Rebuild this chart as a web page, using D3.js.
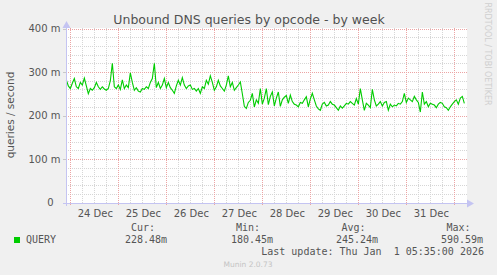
<!DOCTYPE html>
<html>
<head>
<meta charset="utf-8">
<script src="https://cdn.jsdelivr.net/npm/d3@7"></script>
<style>
  html, body { margin: 0; padding: 0; background: #f0f0f0; }
  svg { display: block; }
</style>
</head>
<body>
<div id="chart"></div>
<script>
// DATA
const title = 'Unbound DNS queries by opcode - by week';
const yLabel = 'queries / second';
const seriesName = 'QUERY';
const yTicks = [0, 100, 200, 300, 400];           // milli-queries per second
const dayLabels = ['24 Dec', '25 Dec', '26 Dec', '27 Dec', '28 Dec', '29 Dec', '30 Dec', '31 Dec'];
const startTime = '2025-12-23T22:00:00Z';          // first sample, one per hour
// hourly averages in m (queries/second * 1000)
const queryValues = [
  282, 268, 262, 274, 285, 266, 262, 276, 270, 286, 268, 250, 262, 258, 264, 276, 266, 260, 266, 261,
  258, 262, 280, 320, 266, 262, 270, 260, 282, 262, 270, 264, 298, 276, 258, 264, 256, 254, 262, 260,
  266, 262, 276, 285, 320, 264, 276, 262, 270, 285, 264, 276, 264, 258, 251, 268, 281, 270, 287, 270,
  262, 268, 270, 260, 262, 256, 262, 251, 266, 262, 281, 272, 291, 276, 258, 266, 281, 268, 262, 256,
  270, 291, 266, 276, 258, 264, 270, 277, 250, 221, 216, 230, 235, 251, 220, 236, 228, 262, 226, 240,
  262, 225, 244, 254, 222, 240, 254, 221, 236, 242, 246, 228, 247, 232, 226, 224, 220, 230, 228, 236,
  243, 220, 238, 251, 236, 222, 215, 212, 226, 230, 222, 224, 232, 226, 224, 218, 212, 222, 217, 222,
  228, 226, 232, 228, 224, 239, 226, 262, 236, 212, 228, 224, 218, 260, 236, 222, 226, 232, 222, 230,
  232, 212, 226, 220, 224, 222, 228, 226, 232, 251, 230, 240, 236, 232, 244, 236, 230, 208, 254, 226,
  232, 220, 228, 226, 224, 218, 226, 230, 228, 220, 218, 212, 220, 226, 232, 236, 226, 240, 244, 228
];
const legendHeads = ['Cur:', 'Min:', 'Avg:', 'Max:'];
const legendValues = ['228.48m', '180.45m', '245.24m', '590.59m'];
const lastUpdate = 'Last update: Thu Jan  1 05:35:00 2026';

// DIMENSIONS
const width = 497;
const height = 275;
const plotLeft = 65.5, plotRight = 465.5;
const plotTop = 28.5, plotBottom = 202.5;
const axisColor = '#c4c4f2';
const textColor = '#555555';
const mono = '"DejaVu Sans Mono", "Liberation Mono", monospace';
const sans = '"DejaVu Sans", "Noto Sans", sans-serif';

const svg = d3.select('#chart').append('svg')
  .attr('width', width)
  .attr('height', height)
  .style('background', '#f0f0f0');

// SCALES
const t0 = new Date(startTime);
const points = queryValues.map((v, i) => ({ t: new Date(t0.getTime() + i * 3600e3), v: v }));
const xStart = new Date('2025-12-23T21:35:00Z');
const xEnd = new Date('2026-01-01T05:35:00Z');
const x = d3.scaleUtc().domain([xStart, xEnd]).range([plotLeft, plotRight]);
const y = d3.scaleLinear().domain([0, 400]).range([plotBottom, plotTop]);

// canvas
svg.append('rect')
  .attr('x', 66).attr('y', 28)
  .attr('width', 401).attr('height', 175)
  .attr('fill', '#ffffff');

// GRID
const grid = svg.append('g').attr('shape-rendering', 'crispEdges');
const minorY = d3.range(0, 401, 20).filter(v => v % 100 !== 0);
grid.selectAll('line.minor-y').data(minorY).enter().append('line')
  .attr('x1', 66).attr('x2', 467)
  .attr('y1', d => Math.round(y(d)) + 0.5).attr('y2', d => Math.round(y(d)) + 0.5)
  .attr('stroke', '#d6d6d6').attr('stroke-dasharray', '1,1');

const sixHours = d3.utcHour.every(6).range(xStart, xEnd).filter(d => d.getUTCHours() !== 0);
grid.selectAll('line.minor-x').data(sixHours).enter().append('line')
  .attr('x1', d => Math.round(x(d)) + 0.5).attr('x2', d => Math.round(x(d)) + 0.5)
  .attr('y1', 28).attr('y2', 203)
  .attr('stroke', '#d6d6d6').attr('stroke-dasharray', '1,1');

grid.selectAll('line.major-y').data(yTicks.filter(d => d > 0)).enter().append('line')
  .attr('x1', 66).attr('x2', 467)
  .attr('y1', d => Math.round(y(d)) + 0.5).attr('y2', d => Math.round(y(d)) + 0.5)
  .attr('stroke', '#eca4a4').attr('stroke-dasharray', '1,1');

const days = d3.utcDay.range(xStart, xEnd);
grid.selectAll('line.major-x').data(days).enter().append('line')
  .attr('x1', d => Math.round(x(d)) + 0.5).attr('x2', d => Math.round(x(d)) + 0.5)
  .attr('y1', 28).attr('y2', 206)
  .attr('stroke', '#eca4a4').attr('stroke-dasharray', '1,1');

// y ticks on the axis
grid.selectAll('line.ytick').data(yTicks).enter().append('line')
  .attr('x1', 63).attr('x2', 66)
  .attr('y1', d => Math.round(y(d)) + 0.5).attr('y2', d => Math.round(y(d)) + 0.5)
  .attr('stroke', '#c8c8c8');

// SERIES LINE
const line = d3.line()
  .x(d => x(d.t))
  .y(d => y(d.v));

svg.append('path')
  .datum(points)
  .attr('d', line)
  .attr('fill', 'none')
  .attr('stroke', '#00cc00')
  .attr('stroke-width', 1.1);

// AXES
const axes = svg.append('g').attr('shape-rendering', 'crispEdges');
axes.append('line')
  .attr('x1', 63).attr('x2', 468)
  .attr('y1', 203.5).attr('y2', 203.5)
  .attr('stroke', axisColor);
axes.append('line')
  .attr('x1', 66.5).attr('x2', 66.5)
  .attr('y1', 206).attr('y2', 24)
  .attr('stroke', axisColor);
svg.append('path')
  .attr('d', 'M467,199.5 L474,203.5 L467,207.5 Z')
  .attr('fill', axisColor);
svg.append('path')
  .attr('d', 'M62.5,28 L66.5,21 L70.5,28 Z')
  .attr('fill', axisColor);

// TEXTS
svg.append('text')
  .attr('x', 249).attr('y', 23.5)
  .attr('text-anchor', 'middle')
  .style('font-family', sans).style('font-size', '12.5px')
  .attr('fill', '#505050')
  .text(title);

svg.selectAll('text.ylab').data(yTicks).enter().append('text')
  .attr('x', d => d === 0 ? 53.5 : 60.5)
  .attr('y', d => y(d) + 3.6)
  .attr('text-anchor', 'end')
  .style('font-family', sans).style('font-size', '10px')
  .attr('fill', textColor)
  .text(d => d === 0 ? '0' : d + ' m');

svg.append('text')
  .attr('transform', 'translate(14,115) rotate(-90)')
  .attr('text-anchor', 'middle')
  .style('font-family', sans).style('font-size', '10.5px')
  .attr('fill', textColor)
  .text(yLabel);

const noons = days.map(d => new Date(d.getTime() + 12 * 3600e3));
svg.selectAll('text.xlab').data(dayLabels).enter().append('text')
  .attr('x', (d, i) => x(noons[i]) + 1)
  .attr('y', 216.5)
  .attr('text-anchor', 'middle')
  .style('font-family', sans).style('font-size', '10px')
  .attr('fill', textColor)
  .text(d => d);

// watermark
svg.append('text')
  .attr('transform', 'translate(485,54) rotate(90)')
  .attr('text-anchor', 'middle')
  .style('font-family', sans).style('font-size', '8px')
  .attr('fill', '#cfcfcf')
  .text('RRDTOOL / TOBI OETIKER');

// LEGEND
svg.append('rect')
  .attr('x', 14).attr('y', 237)
  .attr('width', 6).attr('height', 6)
  .attr('fill', '#00cc00');

svg.append('text')
  .attr('x', 26).attr('y', 242.5)
  .style('font-family', mono).style('font-size', '10px')
  .attr('fill', textColor)
  .text(seriesName);

const headX = [131, 236, 341.5, 446.5];
const valX = [125, 231, 336, 441];
svg.selectAll('text.lhead').data(legendHeads).enter().append('text')
  .attr('x', (d, i) => headX[i]).attr('y', 230.5)
  .style('font-family', mono).style('font-size', '10px')
  .attr('fill', textColor)
  .text(d => d);
svg.selectAll('text.lval').data(legendValues).enter().append('text')
  .attr('x', (d, i) => valX[i]).attr('y', 242.5)
  .style('font-family', mono).style('font-size', '10px')
  .attr('fill', textColor)
  .text(d => d);

svg.append('text')
  .attr('x', 484).attr('y', 254.5)
  .attr('text-anchor', 'end')
  .attr('xml:space', 'preserve')
  .style('white-space', 'pre')
  .style('font-family', mono).style('font-size', '10px')
  .attr('fill', textColor)
  .text(lastUpdate);

svg.append('text')
  .attr('x', 248).attr('y', 266.5)
  .attr('text-anchor', 'middle')
  .style('font-family', sans).style('font-size', '7.5px')
  .attr('fill', '#c4c4c4')
  .text('Munin 2.0.73');
</script>
</body>
</html>
